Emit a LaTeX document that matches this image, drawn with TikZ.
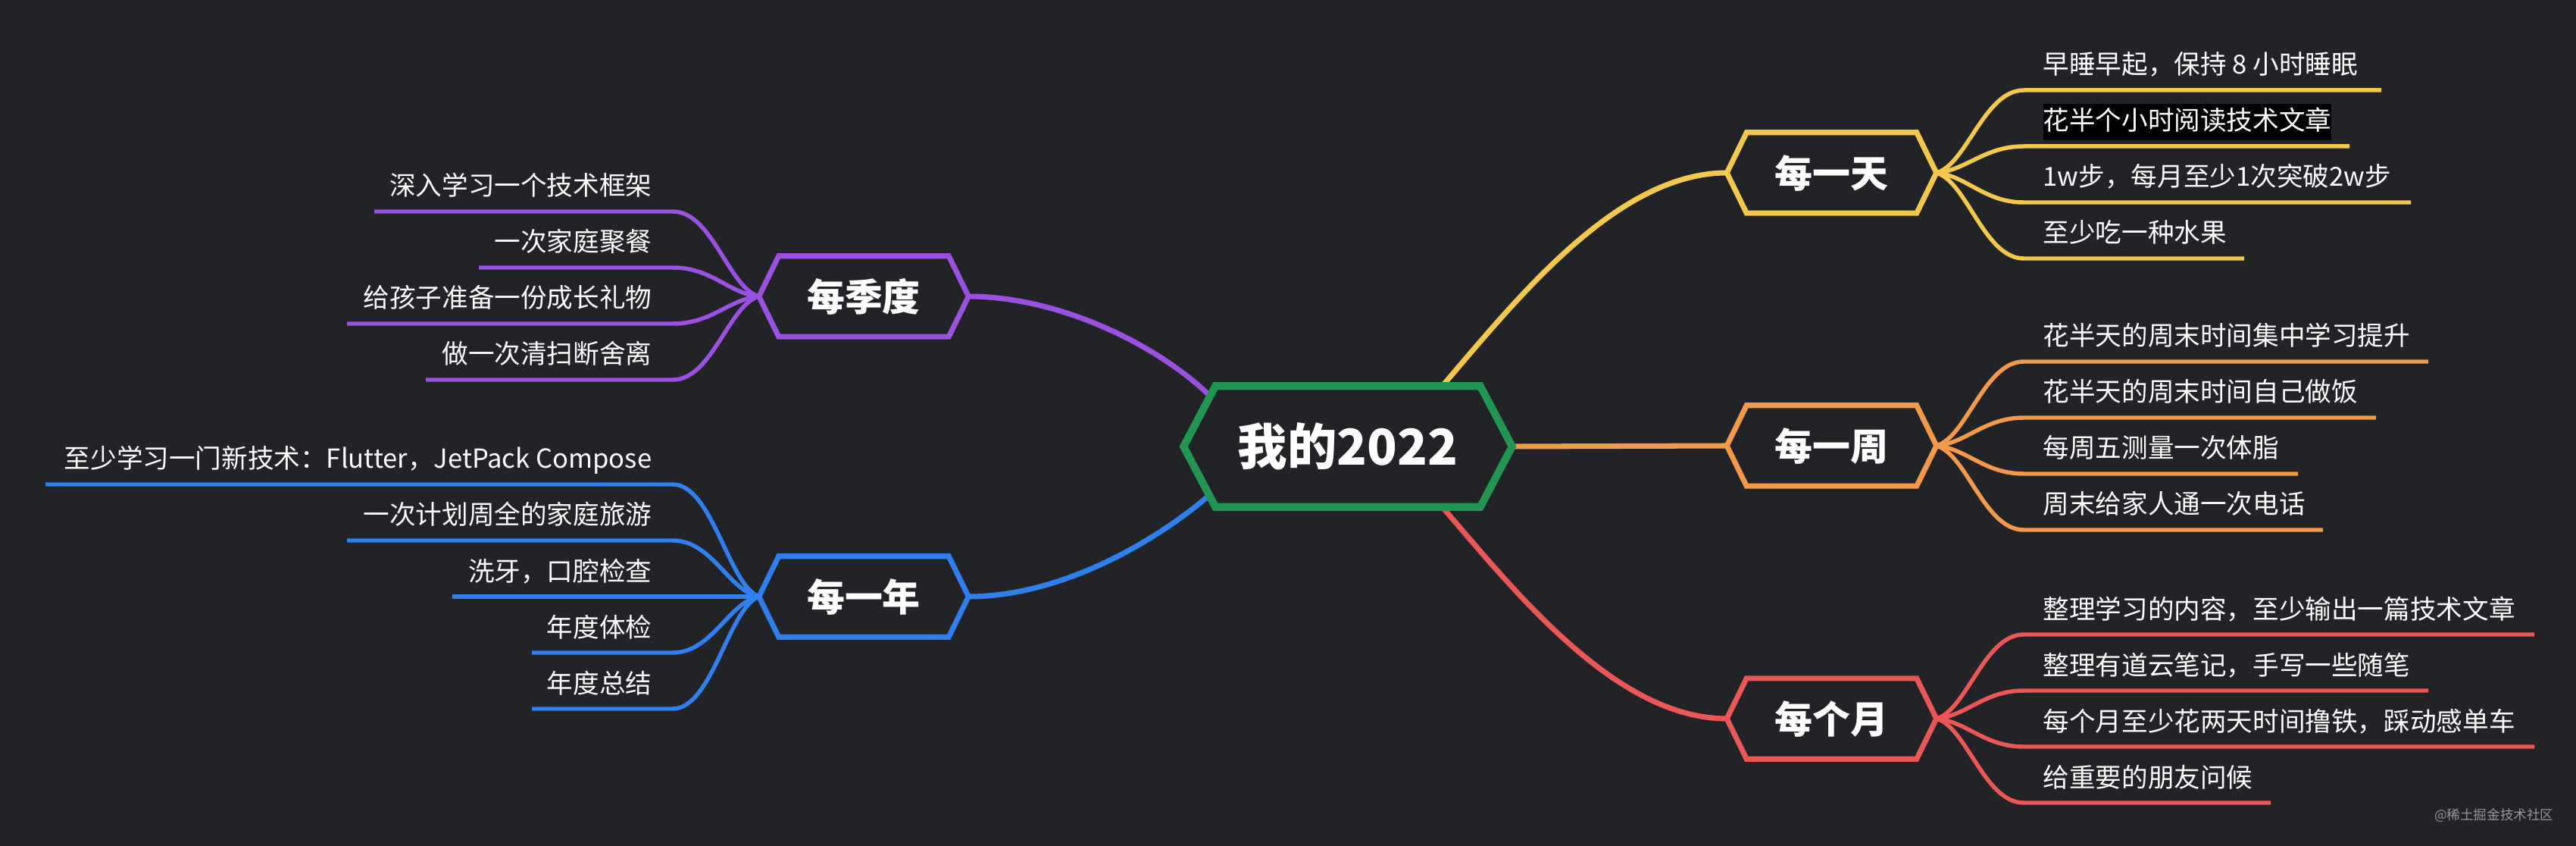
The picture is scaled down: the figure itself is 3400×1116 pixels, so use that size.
\documentclass[tikz,border=0pt]{standalone}
\usepackage{fontspec}
\setmainfont{Noto Sans CJK SC}
\usetikzlibrary{calc}
\definecolor{bgc}{RGB}{34,35,39}
\definecolor{cyel}{HTML}{F2C94C}
\definecolor{cora}{HTML}{F2994A}
\definecolor{cred}{HTML}{EB5757}
\definecolor{cpur}{HTML}{9B51E0}
\definecolor{cblu}{HTML}{2F80ED}
\definecolor{cgrn}{HTML}{219653}
\definecolor{wmark}{RGB}{150,150,150}
\pgfdeclarelayer{back}
\pgfdeclarelayer{bg}
\pgfdeclarelayer{mid}
\pgfsetlayers{back,bg,mid,main}
\tikzset{
  leaf/.style={inner sep=0pt, text=white, font=\fontsize{9.84pt}{12pt}\selectfont},
  branchbox/.style={inner sep=0pt, minimum width=2.23cm, minimum height=1.05cm, text=white,
    font=\bfseries\fontsize{14.2pt}{16pt}\selectfont},
  rootbox/.style={inner sep=0pt, minimum width=3.48cm, minimum height=1.58cm, text=white,
    font=\bfseries\fontsize{18.6pt}{21pt}\selectfont},
  leafline/.style={line width=1.56pt},
  mainline/.style={line width=2pt},
  hexline/.style={line width=2pt, fill=bgc},
  highlit/.style={fill=black, text height=0.35cm, text depth=0.13cm},
}
% hexagon around a node: #1 node, #2 protrusion, #3 style
\newcommand\hexaround[3]{%
  \begin{pgfonlayer}{mid}
  \draw[#3] (#1.north west) -- (#1.north east) -- ($(#1.east)+(#2,0)$) -- (#1.south east)
     -- (#1.south west) -- ($(#1.west)+(-#2,0)$) -- cycle;
  \end{pgfonlayer}}
% right leaf: [node opts] branch, index, y, dy, xend, colour, text
\newcommand\rleaf[8][]{%
  \coordinate (#2-#3a) at (2671,#4);
  \coordinate (#2-#3b) at (#6,#4);
  \node[leaf, anchor=base west, #1] (#2-#3) at (2696,#4-21) {#8};
  \begin{pgfonlayer}{bg}
  \draw[leafline, #7] (#2-e) .. controls +(40,#5/10) and +(-52,0) .. (#2-#3a) -- (#2-#3b);
  \end{pgfonlayer}}
% left leaf
\newcommand\lleaf[8][]{%
  \coordinate (#2-#3a) at (888,#4);
  \coordinate (#2-#3b) at (#6,#4);
  \node[leaf, anchor=base east, #1] (#2-#3) at (861,#4-21) {#8};
  \begin{pgfonlayer}{bg}
  \draw[leafline, #7] (#2-w) .. controls +(-40,#5/10) and +(52,0) .. (#2-#3a) -- (#2-#3b);
  \end{pgfonlayer}}
\begin{document}
\begin{tikzpicture}[x=0.01cm, y=-0.01cm]
\begin{pgfonlayer}{back}
\fill[bgc] (0,0) rectangle (3400,1116);
\end{pgfonlayer}
\useasboundingbox (0,0) rectangle (3400,1116);

% nodes
\node[rootbox] (root) at (1779,589) {我的2022};
\node[branchbox] (day) at (2417.5,228) {每一天};
\node[branchbox] (week) at (2417.5,588) {每一周};
\node[branchbox] (month) at (2417.5,948) {每个月};
\node[branchbox] (season) at (1140,391) {每季度};
\node[branchbox] (year) at (1140,787) {每一年};

\hexaround{root}{42}{hexline, draw=cgrn, line width=2.85pt}
\hexaround{day}{26}{hexline, draw=cyel}
\hexaround{week}{26}{hexline, draw=cora}
\hexaround{month}{26}{hexline, draw=cred}
\hexaround{season}{26}{hexline, draw=cpur}
\hexaround{year}{26}{hexline, draw=cblu}

% attachment points
\coordinate (root-e) at ($(root.east)+(42,0)$);
\coordinate (root-y) at ($(root.north east)+(-58,9)$);
\coordinate (root-r) at ($(root.south east)+(-58,-9)$);
\coordinate (root-p) at ($(root.north west)+(-3,17)$);
\coordinate (root-b) at ($(root.south west)+(-5,-18)$);
\foreach \b in {day,week,month,season,year}{
  \coordinate (\b-w) at ($(\b.west)+(-26,0)$);
  \coordinate (\b-e) at ($(\b.east)+(26,0)$);
}

% main connectors
\begin{pgfonlayer}{bg}
\draw[mainline, cyel] (root-y) .. controls +(98,-113) and +(-150,0) .. (day-w);
\draw[mainline, cora] (root-e) -- (week-w);
\draw[mainline, cred] (root-r) .. controls +(98,113) and +(-150,0) .. (month-w);
\draw[mainline, cpur] (season-e) .. controls +(121,0) and +(-70,-70) .. (root-p);
\draw[mainline, cblu] (year-e) .. controls +(121,0) and +(-75,65) .. (root-b);
\end{pgfonlayer}

% leaves: day
\rleaf{day}{1}{119}{-109}{3143}{cyel}{早睡早起，保持 8 小时睡眠}
\rleaf[highlit]{day}{2}{193}{-35}{3101}{cyel}{花半个小时阅读技术文章}
\rleaf{day}{3}{267}{39}{3182}{cyel}{1w步，每月至少1次突破2w步}
\rleaf{day}{4}{341}{113}{2962}{cyel}{至少吃一种水果}
% week
\rleaf{week}{1}{477}{-111}{3205}{cora}{花半天的周末时间集中学习提升}
\rleaf{week}{2}{551}{-37}{3136}{cora}{花半天的周末时间自己做饭}
\rleaf{week}{3}{625}{37}{3033}{cora}{每周五测量一次体脂}
\rleaf{week}{4}{699}{111}{3066}{cora}{周末给家人通一次电话}
% month
\rleaf{month}{1}{837}{-111}{3345}{cred}{整理学习的内容，至少输出一篇技术文章}
\rleaf{month}{2}{911}{-37}{3205}{cred}{整理有道云笔记，手写一些随笔}
\rleaf{month}{3}{985}{37}{3345}{cred}{每个月至少花两天时间撸铁，踩动感单车}
\rleaf{month}{4}{1059}{111}{2997}{cred}{给重要的朋友问候}
% season
\lleaf{season}{1}{279}{-112}{494}{cpur}{深入学习一个技术框架}
\lleaf{season}{2}{353}{-38}{632}{cpur}{一次家庭聚餐}
\lleaf{season}{3}{427}{36}{458}{cpur}{给孩子准备一份成长礼物}
\lleaf{season}{4}{501}{110}{562}{cpur}{做一次清扫断舍离}
% year
\lleaf{year}{1}{639}{-148}{60}{cblu}{至少学习一门新技术：Flutter，JetPack Compose}
\lleaf{year}{2}{713}{-74}{458}{cblu}{一次计划周全的家庭旅游}
\lleaf{year}{3}{787}{0}{597}{cblu}{洗牙，口腔检查}
\lleaf{year}{4}{861}{74}{702}{cblu}{年度体检}
\lleaf{year}{5}{935}{148}{702}{cblu}{年度总结}

% watermark
\node[inner sep=0pt, anchor=base east, text=wmark, font=\fontsize{5pt}{6pt}\selectfont] (wm) at (3371,1081) {@稀土掘金技术社区};
\end{tikzpicture}
\end{document}
